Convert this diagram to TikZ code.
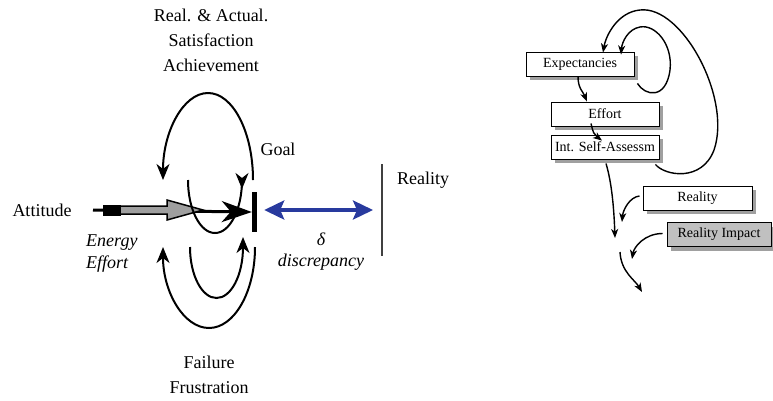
\documentclass[tikz,border=0pt]{standalone}
\usepackage{fontspec}
\setmainfont{Liberation Serif}
\usetikzlibrary{arrows.meta,calc,shadows}
\definecolor{discblue}{RGB}{40,58,158}
\definecolor{shadowgray}{RGB}{160,160,160}
\definecolor{impactgray}{RGB}{192,192,192}
\begin{document}
\begin{tikzpicture}[x=1pt,y=-1pt,
  bigtext/.style={font=\fontsize{18}{25}\selectfont, inner sep=0pt, align=center},
  loop/.style={line width=2pt, -{Stealth[length=16pt,width=13pt,inset=5pt]}},
  box/.style={draw=black, line width=0.9pt, fill=white, minimum width=108pt,
    minimum height=24pt, inner sep=0pt, font=\fontsize{14}{16}\selectfont,
    general shadow={shadow xshift=4pt, shadow yshift=-4pt, fill=shadowgray}},
  flow/.style={line width=1.4pt, -{Stealth[length=9pt,width=7pt,inset=2.5pt]}}]
\useasboundingbox (0,0) rectangle (773,400);

% ---------- goal model ----------
\node[bigtext] (top) at (211,40) {Real. \& Actual.\\Satisfaction\\Achievement};
\node[bigtext] (bottom) at (209,375) {Failure\\Frustration};
\node[bigtext] (attitude) at (42,210) {Attitude};
\node[bigtext] (goal) at (278,149) {Goal};
\node[bigtext, align=left, anchor=west, font=\fontsize{18}{22}\selectfont\itshape] (energy) at (86,254) {Energy\\Effort};
\node[bigtext, font=\fontsize{18}{21}\selectfont\itshape] (delta) at (321,252) {δ\\discrepancy};
\node[bigtext, anchor=west] (reality) at (397,180) {Reality};

% goal bar and reality line
\node[fill=black, minimum width=5pt, minimum height=40pt, inner sep=0pt] (goalbar) at (254.5,212) {};
\coordinate (realtop) at (382,164);
\coordinate (realbot) at (382,256);
\draw[line width=1.5pt, black!75] (realtop) -- (realbot);

% effort arrow: thin black arrow through a grey block arrow
\coordinate (effstart) at (93,210);
\draw[line width=3pt, -{Stealth[length=30pt,width=21pt,inset=9pt]}] (effstart) -- (goalbar.west);
\fill[black] (103,204.5) rectangle (121,215.5);
\draw[line width=1.5pt, fill=gray!75, line join=miter]
  (120,206) -- (167,206) -- (167,200) -- (203,210) -- (167,220) -- (167,214) -- (120,214) -- cycle;

% discrepancy
\draw[discblue, line width=3.5pt, {Stealth[length=20pt,width=19pt,inset=4pt]}-{Stealth[length=20pt,width=19pt,inset=4pt]}]
  ($(goalbar.east)+(7,-2)$) -- ($(realtop)!0.5!(realbot)+(-9,-0)$);

% feedback arcs above and below the goal
\coordinate (uoS) at (253,180);
\coordinate (uiS) at (188,180);
\coordinate (loS) at (255,247);
\coordinate (liS) at (190,247);
\draw[loop] (uoS) arc[start angle=0, end angle=-180, x radius=45, y radius=87];
\draw[loop] (uiS) arc[start angle=180, end angle=0, x radius=27, y radius=53] -- ++(0,9);
\draw[loop] (loS) arc[start angle=0, end angle=180, x radius=46, y radius=81];
\draw[loop] (liS) arc[start angle=180, end angle=0, x radius=26.5, y radius=51] -- ++(0,-10);

% ---------- process chart ----------
\node[box] (exp) at (580,64) {Expectancies};
\node[box] (eff) at (605,114) {Effort};
\node[box] (isa) at (605,147) {Int. Self-Assessm};
\node[box, minimum width=109pt] (rea) at (697.5,198) {Reality};
\node[box, minimum width=104pt, fill=impactgray] (imp) at (719,234.5) {Reality Impact};

\draw[flow] ($(exp.south)+(-2,0)$) .. controls +(0,12) and +(-4,-10) .. ($(eff.north)+(-18,0)$);
\draw[flow] ($(eff.south)+(-14,-3)$) .. controls +(2,9) and +(-8,-6) .. ($(isa.north)+(-3,6)$);
\draw[flow] ($(isa.south east)+(-4,5)$) .. controls (665,176) and (702,182) .. (714,150)
  .. controls (732,98) and (682,5) .. (640,10) .. controls (618,12) and (606,35) .. ($(exp.north)+(23,1)$);
\draw[flow] ($(exp.south east)+(3,7)$) .. controls (645,96) and (666,100) .. (670,70)
  .. controls (673,44) and (655,24) .. (640,27) .. controls (628,29) and (622,42) .. ($(exp.north)+(41,3)$);

\coordinate (mergeA) at (615,238);
\coordinate (mergeB) at (622,222);
\coordinate (mergeC) at (632,259);
\coordinate (outS) at (620,252);
\coordinate (outE) at (642,292);
\draw[flow] ($(isa.south)+(1,4)$) .. controls +(6,20) and +(-1,-28) .. (mergeA);
\draw[flow] ($(rea.west)+(-3,-2)$) .. controls +(-10,1) and +(1,-12) .. (mergeB);
\draw[flow] ($(imp.west)+(-4,-1)$) .. controls +(-18,0) and +(2,-12) .. (mergeC);
\draw[flow] (outS) .. controls +(1,20) and +(-7,-12) .. (outE);
\end{tikzpicture}
\end{document}
